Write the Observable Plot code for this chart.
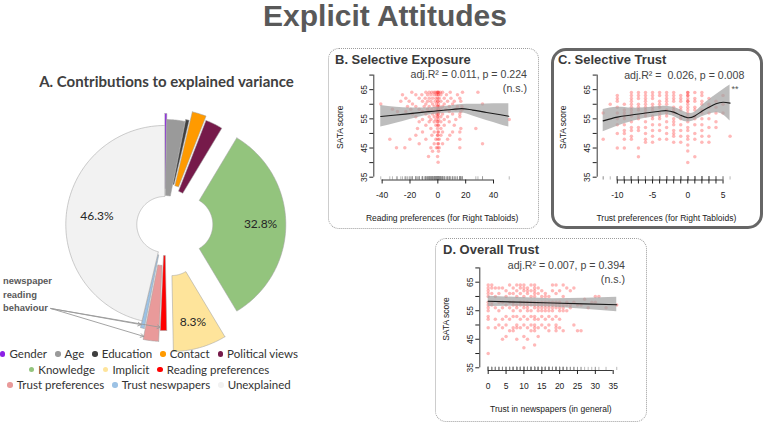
<!DOCTYPE html>
<html><head><meta charset="utf-8">
<script src="https://cdn.jsdelivr.net/npm/d3@7"></script>
<script src="https://cdn.jsdelivr.net/npm/@observablehq/plot@0.6"></script>
<style>
html,body{margin:0;padding:0;background:#fff;}
body{width:765px;height:425px;overflow:hidden;position:relative;font-family:"Liberation Sans",Arial,sans-serif;}
.box{position:absolute;box-sizing:border-box;}
.dotted{border:1px dotted #9c9c9c;border-radius:11px;}
.solid{border:3px solid #666;border-radius:15px;}
.plot{position:absolute;overflow:visible;}
#overlay{position:absolute;left:0;top:0;pointer-events:none;}
.legend{position:absolute;left:0;width:298px;top:346.1px;font-family:Lato,"Open Sans",sans-serif;font-size:11.5px;color:#333;}
.legend .row{display:flex;justify-content:center;height:15.5px;line-height:15.5px;white-space:nowrap;}
.legend .item{display:flex;align-items:center;margin:0 4px;}
.legend .dot{display:inline-block;width:5.5px;height:5.5px;border-radius:50%;margin-right:4px;}
</style>
</head><body>
<div id="root"></div>
<script>
// ---------------- Panel A data ----------------
const categories = ["Gender","Age","Education","Contact","Political views","Knowledge","Implicit","Reading preferences","Trust preferences","Trust neswpapers","Unexplained"];
const shares = [0.3, 2.8, 0.6, 2.2, 2.7, 32.8, 8.3, 1.0, 2.4, 0.6, 46.3];
const colors = ["#8c1fe6","#9a9a9a","#3f3f3f","#ff9a00","#761a4a","#93c47d","#fee49b","#ff0000","#e99a9a","#9cc2e5","#f2f2f2"];
const legendRows = [[0,1,2,3,4],[5,6,7],[8,9,10]];
const readingGroup = ["Reading preferences","Trust preferences","Trust neswpapers"];
// styling of the exploded doughnut (not data)
const explode = [8, 1, 13, 12, 8, 20, 24, 3, 13, 3, 0];
const outerR = [103, 104, 94, 104, 104, 101, 104, 103, 104, 103, 99];
const innerR = 28;

// ---------------- Panel B: Selective Exposure ----------------
// rows: [SATA score, reading preference values]
const exposureRows = [
 [64.1,[-18.7,-8.6,-6.2,-4.3,-2.6,-1.4,-0.2,0,0.5,1.7,3.4,8.9,17.7,28.8]],
 [63.3,[-25.4,-15.8,-11.5,-7.4,-5,-2.6,-1,0,0.5,2.2,6.2,14.1]],
 [62.1,[-23,-13.4,-9.1,-6.2,-3.8,-1.4,0,1,4.6,9.4,15.8]],
 [61,[-26.6,-20.6,-11,-7.4,-5,-1.9,0,0,2.2,7,11.8,16.5]],
 [60.1,[-41,-18.2,-8.6,-3.8,-1,0.5,4.6,10.6,32.1]],
 [59.2,[-21.8,-15.8,-9.8,-6.2,-2.6,-0.2,0,1,3.4,8.2,14.1,17.3]],
 [58.3,[-32.6,-19.4,-13.4,-7.4,-4.3,-1.4,0,0.5,2.2,5.8,12.9,17.7]],
 [57.5,[-29,-23,-11,-6.2,-2.6,-0.2,0,1,8.2,16.5]],
 [56.7,[-18.2,-8.6,-3.8,-1,0,0.5,3.4,10.6,15.8]],
 [55.7,[-15.8,-6.2,-2.6,-0.2,0,2.2,7,15.8]],
 [54.8,[-11,-5,-1.4,0.5,4.6,12.9,51.3]],
 [54,[-13.4,-6.2,-2.6,-0.2,0,2.2,8.2]],
 [52.8,[-8.6,-1.4,0,0.5,4.6,11.8]],
 [51.7,[-14.6,-5,-0.2,2.2,16.5,27.3]],
 [50.5,[-11,-2.6,0,0.5,3.4,10.6,15.8]],
 [49.4,[-15.8,-4.3,-0.2,0,2.2,8.6]],
 [48,[-34.5,-20.1,-8.6,-1.4,0,1,7,15.8]],
 [46.5,[-13.4,-2.6,0,0.5,3.4,32.1]],
 [45.1,[-29.7,-23.7,-5,-1,0,1,15.8]],
 [43.9,[-3.8,0.5]],
 [42.1,[-6.7,-0.2]],
 [40.1,[0.2]]
];
const exposureFitX  = [-41,-30,-20,-10,0,10,17,25,35,45,51];
const exposureFit   = [55.8,56.3,56.8,57.3,57.8,58.2,58.5,58.0,57.2,56.4,55.9];
const exposureHi    = [59.6,59.0,58.7,58.7,59.0,59.5,59.9,60.0,60.1,60.2,60.2];
const exposureLo    = [52.2,53.5,54.8,56.0,56.7,57.0,57.0,56.0,54.4,53.0,52.2];

// ---------------- Panel C: Selective Trust ----------------
// columns: [trust preference, SATA scores]
const trustPrefCols = [
 [-12,[57,48]],
 [-11,[60]],
 [-10,[63,62,61,59,57,55,53,50,45]],
 [-9,[60,58,57,56,55,53,51,50,48,45]],
 [-8,[64,63,62,61,60,59,58,57,56,54,52,51,49,48]],
 [-7,[64,63,62,60,59,58,56,55,52,51,45,42]],
 [-6,[64,63,62,61,60,59,58,57,56,54,52,50,48,47]],
 [-5,[64,63,62,60,59,58,56,55,53,51,49,47]],
 [-4,[64,63,61,60,59,57,56,55,53,51,48]],
 [-3,[64,63,62,61,60,58,57,56,54,52,50,48]],
 [-2,[64,63,62,61,59,58,57,55,54,53,51,50,49,47]],
 [-1,[63,62,61,59,58,56,55,53,51,49,47]],
 [0,[64,64,63,63,62,61,61,60,59,58,57,56,55,54,52,51,49,48,46,44,40]],
 [1,[64,62,61,59,58,56,55,53,50,48,42]],
 [2,[64,63,61,60,58,57,55,53,51,49,47]],
 [3,[62,60,59,57,55,52,49,47]],
 [4,[61,59,57,54,52]],
 [5,[63,60,57]],
 [6,[49]]
];
const trustPrefFitX = [-12,-10,-8,-6,-4,-3,-2,-1,0,1,2,3,4,5,6];
const trustPrefFit  = [54.3,55.6,56.3,57.0,57.6,57.8,57.3,56.2,55.4,56.0,57.6,59.0,60.2,60.7,60.4];
const trustPrefHi   = [58.2,59.0,58.7,58.8,59.2,59.3,58.9,58.0,56.9,57.3,59.5,61.5,63.3,65.0,66.6];
const trustPrefLo   = [50.6,52.5,54.0,55.2,56.0,56.3,55.8,54.6,53.9,54.5,55.7,56.6,57.1,56.4,54.3];

// ---------------- Panel D: Overall Trust ----------------
const trustNewsCols = [
 [0,[64,63,62,61,60,58,57,56,55,53,52,49,40]],
 [1,[64,63,61,58,57]],
 [2,[63,60,56,52,49]],
 [3,[63,61,58,55,50]],
 [4,[63,58,56,52,49,45]],
 [5,[62,60,57,53,50,46]],
 [6,[64,61,58,56,52,48]],
 [7,[63,61,58,57,55,53,49,48]],
 [8,[64,62,60,57,56,53,50,49,45]],
 [9,[64,63,61,58,57,55,52,49]],
 [10,[64,63,62,60,58,57,56,53,50,46,42]],
 [11,[63,62,61,58,57,56,55,52,49,45]],
 [12,[64,62,60,58,57,55,53,50,48]],
 [13,[64,63,62,61,60,58,57,56,53,52,50,49,48,43]],
 [14,[63,61,58,57,56,55,52,49,46]],
 [15,[62,60,58,57,56,55,53,50]],
 [16,[61,60,58,57,56,55,52,49]],
 [17,[60,58,57,56,55,53,50,48]],
 [18,[64,62,58,57,56,55,52]],
 [19,[64,61,58,57,56,53,50,49,48]],
 [20,[62,58,57,56,55,52,49]],
 [21,[64,60,57,56,55,48]],
 [22,[63,58,57,55]],
 [23,[62,57,56]],
 [24,[63,58,50]],
 [25,[57,48]],
 [26,[57,48]],
 [27,[59]],
 [28,[56]],
 [29,[58]],
 [30,[60,58]],
 [31,[60]],
 [33,[56]],
 [36,[57]]
];
const trustNewsFitX = [0,9,18,27,36];
const trustNewsFit  = [58.3,58.0,57.7,57.4,57.1];
const trustNewsHi   = [60.1,59.6,59.2,59.4,59.7];
const trustNewsLo   = [56.5,56.6,56.3,55.5,54.6];

const yTicks = [35,40,45,50,55,60,65,70];
const yTickLabels = [35,45,55,65];

// ---------------- helpers ----------------
const root = document.getElementById("root");
function place(el, left, top){ el.classList.add("plot"); el.style.left = left+"px"; el.style.top = top+"px"; root.appendChild(el); return el; }
function box(cls, l, t, w, h){ const d=document.createElement("div"); d.className="box "+cls; Object.assign(d.style,{left:l+"px",top:t+"px",width:w+"px",height:h+"px"}); root.appendChild(d); }

box("dotted", 328, 48, 211, 181);
box("solid", 551, 48, 212, 181);
box("dotted", 435, 238, 212, 184);

const rowsToPts = rows => rows.flatMap(([y, xs]) => xs.map(x => ({x, y})));
const colsToPts = cols => cols.flatMap(([x, ys]) => ys.map(y => ({x, y})));
const fitTable = (xs, f, hi, lo) => xs.map((x,i)=>({x, fit:f[i], hi:hi[i], lo:lo[i]}));

function scatter(o){
  const [x0] = o.xDomain, [y0] = o.yDomain;
  return Plot.plot({
    width:o.width, height:o.height,
    marginLeft:o.mL, marginRight:o.mR, marginTop:o.mT, marginBottom:o.mB,
    style:{fontFamily:'"Liberation Sans",Arial,sans-serif', color:"#222", background:"transparent", overflow:"visible"},
    x:{domain:o.xDomain},
    y:{domain:o.yDomain},
    marks:[
      Plot.dot(o.points,{x:"x",y:"y",r:1.75,fill:"#ff0000",fillOpacity:0.28,stroke:null}),
      Plot.areaY(o.fit,{x:"x",y1:"lo",y2:"hi",fill:"#a3a3a3",fillOpacity:0.72,curve:o.curve}),
      Plot.line(o.fit,{x:"x",y:"fit",stroke:"#1c1c1c",strokeWidth:1.1,curve:o.curve}),
      Plot.ruleX(o.points,{x:"x",y1:y0,y2:y0+1.1,stroke:"#8a8a8a",strokeWidth:0.6}),
      Plot.ruleX([x0],{y1:35,y2:70,stroke:"#222",strokeWidth:0.9}),
      Plot.ruleY([y0],{x1:o.axisFrom,x2:o.axisTo,stroke:"#222",strokeWidth:0.9}),
      Plot.axisY({ticks:yTicks, tickSize:4, tickPadding:3, tickRotate:-90,
        tickFormat:d=> yTickLabels.includes(d) ? String(d) : "", fontSize:8.5,
        label:"SATA score", labelAnchor:"center", labelArrow:"none", labelOffset:37}),
      Plot.axisX({ticks:o.xTicks, tickSize:4, tickPadding:8, tickFormat:o.xFormat, fontSize:8.5,
        label:o.xLabel, labelAnchor:"center", labelArrow:"none", labelOffset:41})
    ]
  });
}

// Panel B
place(scatter({
  width:211, height:181, mL:45.3, mR:29, mT:26, mB:49.5,
  xDomain:[-46.0,52.2], yDomain:[34.04,70.2],
  points:rowsToPts(exposureRows),
  fit:fitTable(exposureFitX,exposureFit,exposureHi,exposureLo), curve:"monotone-x",
  axisFrom:-40, axisTo:40, xTicks:[-40,-20,0,20,40], xFormat:d=>String(d),
  xLabel:"Reading preferences (for Right Tabloids)"
}), 328, 48);

// Panel C
place(scatter({
  width:212, height:181, mL:45.7, mR:28, mT:26, mB:49.5,
  xDomain:[-12.85,6.77], yDomain:[34.04,70.2],
  points:colsToPts(trustPrefCols),
  fit:fitTable(trustPrefFitX,trustPrefFit,trustPrefHi,trustPrefLo), curve:"natural",
  axisFrom:-10, axisTo:5, xTicks:d3.range(-10,6), xFormat:d=> d%5===0 ? String(d) : "",
  xLabel:"Trust preferences (for Right Tabloids)"
}), 551, 48);

// Panel D
place(scatter({
  width:212, height:184, mL:44.3, mR:25.6, mT:29, mB:52,
  xDomain:[-2.35,37.44], yDomain:[34.05,70.15],
  points:colsToPts(trustNewsCols),
  fit:fitTable(trustNewsFitX,trustNewsFit,trustNewsHi,trustNewsLo), curve:"linear",
  axisFrom:0, axisTo:35, xTicks:d3.range(0,36,5), xFormat:d=>String(d),
  xLabel:"Trust in newspapers (in general)"
}), 435, 238);

// ---------------- Panel A: doughnut ----------------
const PW = 320, PH = 262, pcx = 164.3, pcy = 129;
const arcs = d3.pie().sort(null).value(d=>d)(shares);
const polys = [], labels = [], arrows = [];
const noteAnchor = [-114, 84];
arcs.forEach((a,i)=>{
  const mid = (a.startAngle+a.endAngle)/2, d = explode[i], R = outerR[i];
  const ox = d*Math.sin(mid), oy = -d*Math.cos(mid);
  const n = Math.max(3, Math.ceil((a.endAngle-a.startAngle)/0.015));
  const ring = [];
  for(let k=0;k<=n;k++){ const t=a.startAngle+(a.endAngle-a.startAngle)*k/n; ring.push([ox+R*Math.sin(t), oy-R*Math.cos(t)]); }
  for(let k=n;k>=0;k--){ const t=a.startAngle+(a.endAngle-a.startAngle)*k/n; ring.push([ox+innerR*Math.sin(t), oy-innerR*Math.cos(t)]); }
  ring.push(ring[0]);
  ring.forEach(p=>polys.push({cat:categories[i], x:p[0], y:p[1]}));
  if (shares[i] > 5) {
    const rl = (categories[i]==="Unexplained" ? 0.69 : 0.75)*R;
    labels.push({x:ox+rl*Math.sin(mid), y:oy-rl*Math.cos(mid), text:shares[i].toFixed(1)+"%"});
  }
  if (readingGroup.includes(categories[i])) {
    const rt = 0.97*R, t = a.endAngle;
    arrows.push({x1:noteAnchor[0], y1:noteAnchor[1], x2:ox+rt*Math.sin(t), y2:oy-rt*Math.cos(t)});
  }
});
place(Plot.plot({
  width:PW, height:PH, margin:0,
  style:{background:"transparent", overflow:"visible"},
  x:{domain:[-pcx, PW-pcx], range:[0,PW], axis:null},
  y:{domain:[-pcy, PH-pcy], range:[0,PH], axis:null},
  color:{domain:categories, range:colors},
  marks:[
    Plot.line(polys,{x:"x",y:"y",z:"cat",fill:"cat",stroke:"#a2a2a2",strokeWidth:0.55,curve:"linear"}),
    Plot.text(labels,{x:"x",y:"y",text:"text",fontSize:12,fill:"#262626",fontFamily:"Lato, 'Open Sans', sans-serif"}),
    Plot.arrow(arrows,{x1:"x1",y1:"y1",x2:"x2",y2:"y2",stroke:"#9a9a9a",strokeWidth:0.9,headLength:6})
  ]
}), 0, 95);

// legend
const lg = document.createElement("div"); lg.className="legend";
legendRows.forEach(r=>{
  const row=document.createElement("div"); row.className="row";
  r.forEach(i=>{
    const it=document.createElement("span"); it.className="item";
    const dt=document.createElement("span"); dt.className="dot"; dt.style.background=colors[i];
    it.appendChild(dt); it.appendChild(document.createTextNode(categories[i])); row.appendChild(it);
  });
  lg.appendChild(row);
});
root.appendChild(lg);

// ---------------- overlay texts ----------------
const svg = d3.select("body").append("svg").attr("id","overlay").attr("width",765).attr("height",425);
function txt(x,y,s,opt={}){
  const t = svg.append("text").attr("x",x).attr("y",y).text(s)
    .attr("font-family", opt.family || '"Liberation Sans",Arial,sans-serif')
    .attr("font-size", opt.size || 11).attr("font-weight", opt.weight || "normal")
    .attr("fill", opt.color || "#444").attr("text-anchor", opt.anchor || "start")
    .style("white-space","pre");
  return t;
}
txt(385, 26, "Explicit Attitudes", {size:30, weight:"bold", color:"#595959", anchor:"middle"});
txt(166.5, 87, "A. Contributions to explained variance", {size:15, weight:"bold", color:"#404040", anchor:"middle", family:"Lato, 'Open Sans', sans-serif"});
txt(335, 64, "B. Selective Exposure", {size:13, weight:"bold", color:"#3a3a3a"});
txt(558, 64, "C. Selective Trust", {size:13, weight:"bold", color:"#3a3a3a"});
txt(443, 254.3, "D. Overall Trust", {size:13, weight:"bold", color:"#3a3a3a"});
txt(527, 78.3, "adj.R\u00B2 = 0.011, p = 0.224", {size:10.6, anchor:"end"});
txt(527, 92.3, "(n.s.)", {size:10.6, anchor:"end"});
txt(744.3, 78.7, "adj.R\u00B2 =  0.026, p = 0.008", {size:10.6, anchor:"end"});
txt(735, 92, "**", {size:9, anchor:"middle", color:"#555"});
txt(625, 269.3, "adj.R\u00B2 = 0.007, p = 0.394", {size:10.6, anchor:"end"});
txt(625, 282.7, "(n.s.)", {size:10.6, anchor:"end"});
txt(3, 284.3, "newspaper", {size:9.4, weight:"bold", color:"#595959"});
txt(3, 298.3, "reading", {size:9.4, weight:"bold", color:"#595959"});
txt(3, 310.7, "behaviour", {size:9.4, weight:"bold", color:"#595959"});
</script>
</body></html>
